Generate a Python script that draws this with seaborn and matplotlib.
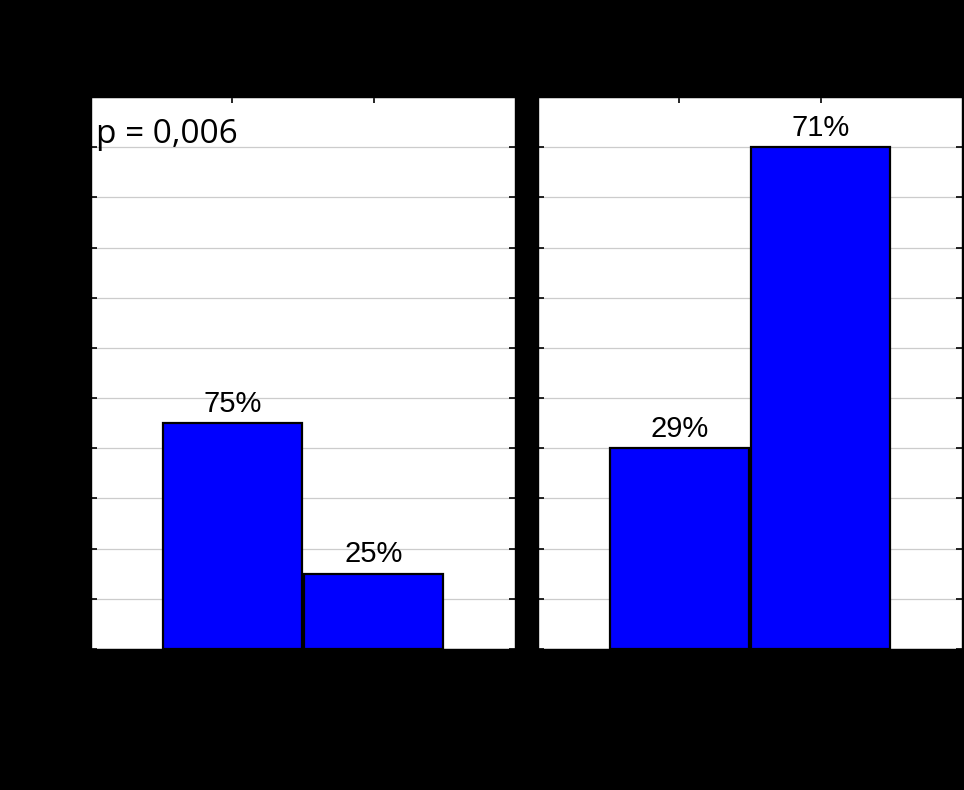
import matplotlib
matplotlib.use("Agg")
import matplotlib.pyplot as plt
import seaborn as sns
import pandas as pd
import numpy as np

# counts per group in each panel (labels in the source are drawn black on black)
groups = ["A", "B"]
left_counts = [9, 3]
right_counts = [4, 10]
p_text = "p = 0,006"

sns.set_style("white")
plt.rcParams['font.family'] = ['Liberation Sans', 'DejaVu Sans']

fig = plt.figure(figsize=(9.64, 7.90), dpi=100, facecolor="black")
ax1 = fig.add_axes([91/964, 141/790, 424/964, 552/790])
ax2 = fig.add_axes([538/964, 141/790, 424/964, 552/790])


def panel(ax, counts, ymax, step):
    df = pd.DataFrame({"group": groups, "n": counts})
    sns.barplot(data=df, x="group", y="n", ax=ax, color="#0000FF", saturation=1,
                width=0.985, edgecolor="black", linewidth=1.6, zorder=3)
    ax.set_facecolor("white")
    ax.set_xlim(-1, 2)
    ax.set_ylim(0, ymax)
    ax.set_yticks(np.arange(0, ymax + 0.01, step))
    ax.grid(axis="y", color="#cccccc", linewidth=0.9, zorder=0)
    ax.tick_params(direction="in", length=4, width=1.2, color="black",
                   left=True, right=True, top=True, bottom=True,
                   labelleft=False, labelbottom=False)
    ax.set_xlabel("")
    ax.set_ylabel("")
    for s in ax.spines.values():
        s.set_color("black")
        s.set_linewidth(1)
    total = sum(counts)
    for i, c in enumerate(counts):
        ax.annotate(f"{round(100 * c / total)}%", (i, c), xytext=(0, 4),
                    textcoords="offset points", ha="center", va="bottom",
                    fontsize=21, color="black")


panel(ax1, left_counts, 22, 2)
panel(ax2, right_counts, 11, 1)

ax1.text(0.012, 0.962, p_text, transform=ax1.transAxes, ha="left", va="top",
         fontsize=24, family=["Open Sans", "DejaVu Sans"], color="black")

fig.savefig("out.png", dpi=100, facecolor="black")
